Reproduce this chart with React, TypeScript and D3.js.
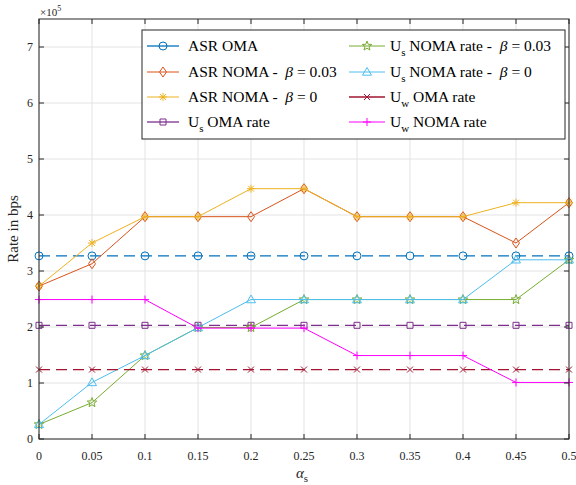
import React from "react";
import * as d3 from "d3";

const alphas = [0, 0.05, 0.1, 0.15, 0.2, 0.25, 0.3, 0.35, 0.4, 0.45, 0.5];
const asrOma = [3.27, 3.27, 3.27, 3.27, 3.27, 3.27, 3.27, 3.27, 3.27, 3.27, 3.27];
const asrNoma003 = [2.73, 3.13, 3.97, 3.97, 3.97, 4.47, 3.97, 3.97, 3.97, 3.5, 4.22];
const asrNoma0 = [2.73, 3.5, 3.97, 3.97, 4.47, 4.47, 3.97, 3.97, 3.97, 4.22, 4.22];
const usOma = [2.03, 2.03, 2.03, 2.03, 2.03, 2.03, 2.03, 2.03, 2.03, 2.03, 2.03];
const usNoma003 = [0.26, 0.65, 1.49, 1.99, 1.99, 2.49, 2.49, 2.49, 2.49, 2.49, 3.2];
const usNoma0 = [0.26, 1.01, 1.49, 1.99, 2.49, 2.49, 2.49, 2.49, 2.49, 3.2, 3.2];
const uwOma = [1.24, 1.24, 1.24, 1.24, 1.24, 1.24, 1.24, 1.24, 1.24, 1.24, 1.24];
const uwNoma = [2.49, 2.49, 2.49, 1.98, 1.98, 1.98, 1.49, 1.49, 1.49, 1.01, 1.01];

const xTicks = [0, 0.05, 0.1, 0.15, 0.2, 0.25, 0.3, 0.35, 0.4, 0.45, 0.5];
const xTickLabels = ["0", "0.05", "0.1", "0.15", "0.2", "0.25", "0.3", "0.35", "0.4", "0.45", "0.5"];
const yTicks = [0, 1, 2, 3, 4, 5, 6, 7];

type Series = {
  values: number[];
  color: string;
  dashed: boolean;
  marker: string;
  label: React.ReactNode;
};

const FONT = "Liberation Serif";

const sub = (main: string, s: string, rest: React.ReactNode) => (
  <>
    {main}
    <tspan dy={5} fontSize={11}>{s}</tspan>
    <tspan dy={-5}> {rest}</tspan>
  </>
);

const series: Series[] = [
  { values: asrOma, color: "#0072BD", dashed: true, marker: "circle", label: "ASR OMA" },
  { values: asrNoma003, color: "#D95319", dashed: false, marker: "diamond", label: <>ASR NOMA -  <tspan fontStyle="italic">β</tspan> = 0.03</> },
  { values: asrNoma0, color: "#EDB120", dashed: false, marker: "asterisk", label: <>ASR NOMA -  <tspan fontStyle="italic">β</tspan> = 0</> },
  { values: usOma, color: "#7E2F8E", dashed: true, marker: "square", label: sub("U", "s", "OMA rate") },
  { values: usNoma003, color: "#77AC30", dashed: false, marker: "pentagram", label: sub("U", "s", <>NOMA rate -  <tspan fontStyle="italic">β</tspan> = 0.03</>) },
  { values: usNoma0, color: "#4DBEEE", dashed: false, marker: "triangle", label: sub("U", "s", <>NOMA rate -  <tspan fontStyle="italic">β</tspan> = 0</>) },
  { values: uwOma, color: "#A2142F", dashed: true, marker: "x", label: sub("U", "w", "OMA rate") },
  { values: uwNoma, color: "#FF00FF", dashed: false, marker: "plus", label: sub("U", "w", "NOMA rate") },
];

function markerPath(type: string): string {
  switch (type) {
    case "circle":
      return d3.symbol(d3.symbolCircle, 50)()!;
    case "diamond":
      return "M0,-5L3.5,0L0,5L-3.5,0Z";
    case "asterisk":
      return "M-4,0L4,0M0,-4L0,4M-2.9,-2.9L2.9,2.9M-2.9,2.9L2.9,-2.9";
    case "square":
      return "M-3,-3L3,-3L3,3L-3,3Z";
    case "pentagram": {
      const pts: string[] = [];
      for (let i = 0; i < 10; i++) {
        const r = i % 2 === 0 ? 5 : 2.1;
        const a = -Math.PI / 2 + (i * Math.PI) / 5;
        pts.push(`${(r * Math.cos(a)).toFixed(2)},${(r * Math.sin(a)).toFixed(2)}`);
      }
      return "M" + pts.join("L") + "Z";
    }
    case "triangle":
      return "M0,-4.5L4.5,3.2L-4.5,3.2Z";
    case "x":
      return "M-3,-3L3,3M-3,3L3,-3";
    case "plus":
      return "M-4,0L4,0M0,-4L0,4";
  }
  return "";
}

export default function App() {
  const W = 576, H = 485;
  const left = 39, right = 569, top = 19, bottom = 439;
  const x = d3.scaleLinear().domain([0, 0.5]).range([left, right]);
  const y = d3.scaleLinear().domain([0, 7.5]).range([bottom, top]);
  const line = d3.line<number>().x((_, i) => x(alphas[i])).y((v) => y(v));
  const axisColor = "#262626";
  const gridColor = "#e3e3e3";

  const legendX = 142, legendY = 30, legendW = 423, legendH = 109;
  const rowsY = [46, 72, 97, 122];
  const cols = [{ l0: 147, l1: 179, tx: 188 }, { l0: 349, l1: 385, tx: 390 }];

  return (
    <svg width={W} height={H} style={{ position: "absolute", left: 0, top: 0, background: "#fff", fontFamily: FONT }}>
      <rect x={0} y={0} width={W} height={H} fill="#fff" />
      {xTicks.map((t, i) => (
        <line key={"gx" + i} x1={x(t)} x2={x(t)} y1={top} y2={bottom} stroke={gridColor} strokeWidth={1} />
      ))}
      {yTicks.map((t, i) => (
        <line key={"gy" + i} x1={left} x2={right} y1={y(t)} y2={y(t)} stroke={gridColor} strokeWidth={1} />
      ))}
      {series.map((s, si) => (
        <g key={"s" + si}>
          <path d={line(s.values)!} fill="none" stroke={s.color} strokeWidth={s.dashed ? 1.3 : 1}
            strokeDasharray={s.dashed ? "11,6" : undefined} />
          {s.values.map((v, i) => (
            <path key={i} d={markerPath(s.marker)} transform={`translate(${x(alphas[i])},${y(v)})`}
              fill="none" stroke={s.color} strokeWidth={1} />
          ))}
        </g>
      ))}
      <rect x={left} y={top} width={right - left} height={bottom - top} fill="none" stroke={axisColor} strokeWidth={1} />
      {xTicks.map((t, i) => (
        <g key={"tx" + i}>
          <line x1={x(t)} x2={x(t)} y1={bottom} y2={bottom - 5} stroke={axisColor} />
          <line x1={x(t)} x2={x(t)} y1={top} y2={top + 5} stroke={axisColor} />
          <text x={x(t)} y={460} textAnchor="middle" fontSize={12} fill={axisColor}>{xTickLabels[i]}</text>
        </g>
      ))}
      {yTicks.map((t, i) => (
        <g key={"ty" + i}>
          <line x1={left} x2={left + 5} y1={y(t)} y2={y(t)} stroke={axisColor} />
          <line x1={right} x2={right - 5} y1={y(t)} y2={y(t)} stroke={axisColor} />
          <text x={left - 6} y={y(t) + 4} textAnchor="end" fontSize={12} fill={axisColor}>{t}</text>
        </g>
      ))}
      <text x={40} y={16} fontSize={11} fill={axisColor}>×10<tspan dy={-5} fontSize={8}>5</tspan></text>
      <text x={302} y={478} textAnchor="middle" fontSize={15} fill={axisColor}>
        <tspan fontStyle="italic">α</tspan><tspan dy={4} fontSize={11}>s</tspan>
      </text>
      <text transform={`translate(18,${(top + bottom) / 2}) rotate(-90)`} textAnchor="middle" fontSize={15} fill={axisColor}>Rate in bps</text>
      <rect x={legendX} y={legendY} width={legendW} height={legendH} fill="#fff" stroke={axisColor} strokeWidth={1} />
      {series.map((s, si) => {
        const col = cols[Math.floor(si / 4)];
        const ry = rowsY[si % 4];
        const mx = (col.l0 + col.l1) / 2;
        return (
          <g key={"lg" + si}>
            <line x1={col.l0} x2={col.l1} y1={ry} y2={ry} stroke={s.color} strokeWidth={s.dashed ? 1.3 : 1} />
            <path d={markerPath(s.marker)} transform={`translate(${mx},${ry})`} fill="none" stroke={s.color} strokeWidth={1} />
            <text x={col.tx} y={ry + 5} fontSize={15.5} fill="#000" style={{ whiteSpace: "pre" }}>{s.label}</text>
          </g>
        );
      })}
    </svg>
  );
}
